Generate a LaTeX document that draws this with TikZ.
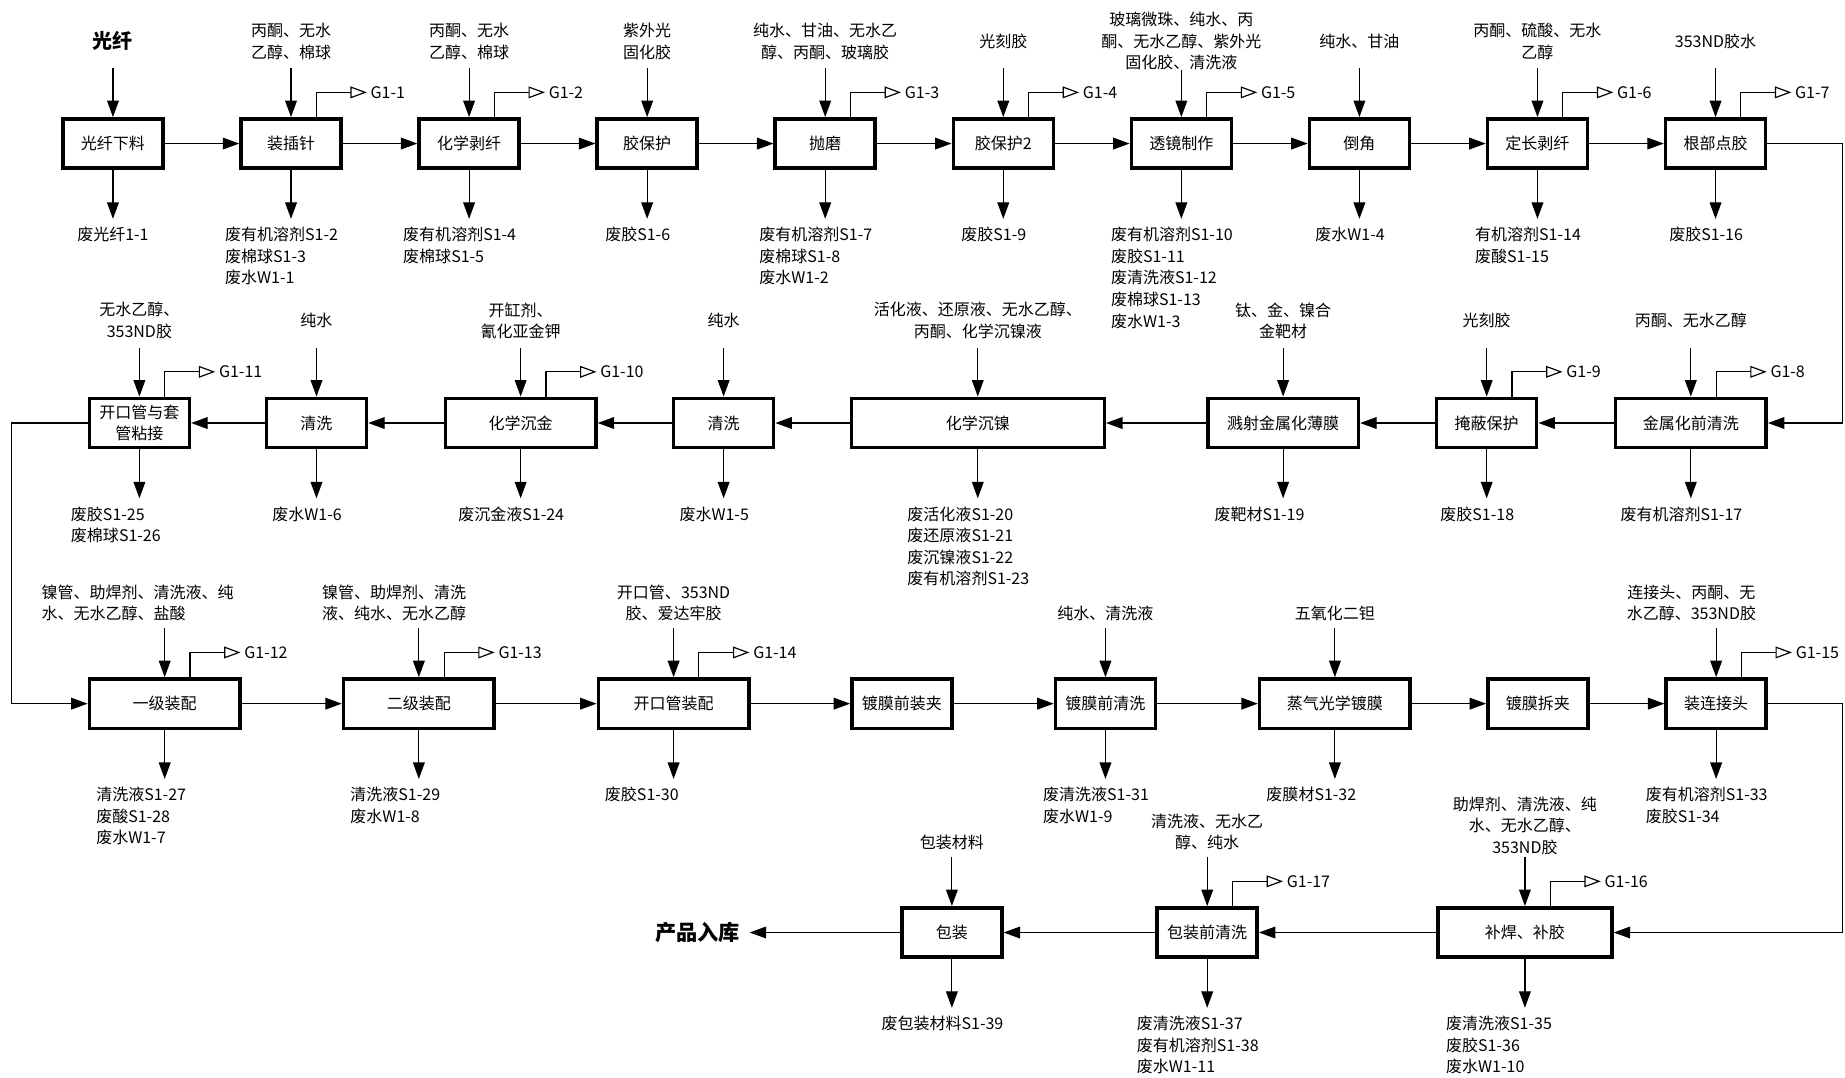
\documentclass[tikz,border=0pt]{standalone}
\usepackage{fontspec}
\setmainfont{Noto Sans CJK SC}
\usetikzlibrary{arrows.meta}
\newcommand{\flowfont}{\fontsize{13.6pt}{18.3pt}\selectfont}
\newcommand{\fiberfont}{\bfseries\fontsize{17pt}{20pt}\selectfont}
\newcommand{\storefont}{\bfseries\fontsize{18pt}{21pt}\selectfont}
\tikzstyle{block} = [rectangle, draw, line width=3pt, minimum width=85pt,
   minimum height=42pt, inner sep=1pt, align=center, font=\flowfont]
\tikzstyle{wideblock} = [block, minimum width=128pt]
\tikzstyle{feed} = [align=center, minimum height=46pt, inner sep=0pt, font=\flowfont]
\tikzstyle{lowfeed} = [align=center, inner sep=6pt, font=\flowfont]
\tikzstyle{waste} = [align=left, inner xsep=1pt, inner ysep=7pt, xshift=-8pt, font=\flowfont]
\tikzstyle{gas} = [anchor=west, inner sep=3pt, font=\flowfont]
\tikzstyle{line} = [draw, line width=1pt, -{Triangle[length=14pt,width=10pt]}]
\tikzstyle{vent} = [draw, line width=1pt, -{Triangle[open,length=14pt,width=10pt]}]
\begin{document}
\begin{tikzpicture}[node distance=151.33pt]
\useasboundingbox (-96pt,122pt) rectangle (1472pt,-794pt);
% Place nodes
\node [block] (cut) {光纤下料};
\node [block, right of=cut] (pin) {装插针};
\node [block, right of=pin] (strip) {化学剥纤};
\node [block, right of=strip] (glue1) {胶保护};
\node [block, right of=glue1] (polish) {抛磨};
\node [block, right of=polish] (glue2) {胶保护2};
\node [block, right of=glue2] (lens) {透镜制作};
\node [block, right of=lens] (bevel) {倒角};
\node [block, right of=bevel] (trim) {定长剥纤};
\node [block, right of=trim] (root) {根部点胶};
\node [wideblock, below of=root, node distance=237.5pt, xshift=-21pt] (preclean) {金属化前清洗};
\node [block, left of=preclean, node distance=173.5pt] (mask) {掩蔽保护};
\node [wideblock, left of=mask, node distance=173pt] (sputter) {溅射金属化薄膜};
\node [block, left of=sputter, node distance=259.5pt, minimum width=215pt] (nickel) {化学沉镍};
\node [block, left of=nickel, node distance=216pt] (rinse1) {清洗};
\node [wideblock, left of=rinse1, node distance=172.5pt] (gold) {化学沉金};
\node [block, left of=gold, node distance=173.5pt] (rinse2) {清洗};
\node [block, left of=rinse2, node distance=150.5pt] (sleeve) {开口管与套\\管粘接};
\node [wideblock, below of=sleeve, node distance=238.5pt, xshift=21.5pt] (asm1) {一级装配};
\node [wideblock, right of=asm1, node distance=216pt] (asm2) {二级装配};
\node [wideblock, right of=asm2, node distance=216.5pt] (tube) {开口管装配};
\node [block, right of=tube, node distance=194pt] (clamp) {镀膜前装夹};
\node [block, right of=clamp, node distance=173pt] (coatclean) {镀膜前清洗};
\node [wideblock, right of=coatclean, node distance=195pt] (coat) {蒸气光学镀膜};
\node [block, right of=coat, node distance=172.5pt] (unclamp) {镀膜拆夹};
\node [block, right of=unclamp, node distance=151.5pt] (conn) {装连接头};
\node [block, below of=conn, node distance=194.5pt, xshift=-162.5pt, minimum width=148pt] (repair) {补焊、补胶};
\node [block, left of=repair, node distance=270pt] (packclean) {包装前清洗};
\node [block, left of=packclean, node distance=217pt] (pack) {包装};
\node [left of=pack, node distance=216pt, inner sep=8pt, font=\storefont] (store) {产品入库};
\coordinate [right of=root, node distance=108pt] (turn1);
\coordinate [left of=sleeve, node distance=108.5pt] (turn2);
\coordinate [right of=conn, node distance=107.5pt] (turn3);
% Materials in
\node [feed, above of=cut, node distance=87pt, font=\fiberfont] (fiber) {光纤};
\node [feed, above of=pin, node distance=87pt] (f2) {丙酮、无水\\乙醇、棉球};
\node [feed, above of=strip, node distance=87pt] (f3) {丙酮、无水\\乙醇、棉球};
\node [feed, above of=glue1, node distance=87pt] (f4) {紫外光\\固化胶};
\node [feed, above of=polish, node distance=87pt] (f5) {纯水、甘油、无水乙\\醇、丙酮、玻璃胶};
\node [feed, above of=glue2, node distance=87pt] (f6) {光刻胶};
\node [feed, above of=lens, node distance=87pt] (f7) {玻璃微珠、纯水、丙\\酮、无水乙醇、紫外光\\固化胶、清洗液};
\node [feed, above of=bevel, node distance=87pt] (f8) {纯水、甘油};
\node [feed, above of=trim, node distance=87pt] (f9) {丙酮、硫酸、无水\\乙醇};
\node [feed, above of=root, node distance=87pt] (f10) {353ND胶水};
\node [feed, above of=preclean, node distance=87pt] (f11) {丙酮、无水乙醇};
\node [feed, above of=mask, node distance=87pt] (f12) {光刻胶};
\node [feed, above of=sputter, node distance=87pt] (f13) {钛、金、镍合\\金靶材};
\node [feed, above of=nickel, node distance=87pt] (f14) {活化液、还原液、无水乙醇、\\丙酮、化学沉镍液};
\node [feed, above of=rinse1, node distance=87pt] (f15) {纯水};
\node [feed, above of=gold, node distance=87pt] (f16) {开缸剂、\\氰化亚金钾};
\node [feed, above of=rinse2, node distance=87pt] (f17) {纯水};
\node [feed, above of=sleeve, node distance=87pt] (f18) {无水乙醇、\\353ND胶};
\node [lowfeed, align=left, above of=asm1, node distance=64pt, anchor=south, xshift=-23pt] (f19) {镍管、助焊剂、清洗液、纯\\水、无水乙醇、盐酸};
\node [lowfeed, align=left, above of=asm2, node distance=64pt, anchor=south, xshift=-21pt] (f20) {镍管、助焊剂、清洗\\液、纯水、无水乙醇};
\node [lowfeed, above of=tube, node distance=64pt, anchor=south] (f21) {开口管、353ND\\胶、爱达牢胶};
\node [lowfeed, above of=coatclean, node distance=64pt, anchor=south] (f22) {纯水、清洗液};
\node [lowfeed, above of=coat, node distance=64pt, anchor=south] (f23) {五氧化二钽};
\node [lowfeed, above of=conn, node distance=64pt, anchor=south, xshift=-21pt] (f24) {连接头、丙酮、无\\水乙醇、353ND胶};
\node [lowfeed, above of=repair, node distance=64pt, anchor=south, inner sep=2pt] (f25) {助焊剂、清洗液、纯\\水、无水乙醇、\\353ND胶};
\node [lowfeed, above of=packclean, node distance=64pt, anchor=south] (f26) {清洗液、无水乙\\醇、纯水};
\node [lowfeed, above of=pack, node distance=64pt, anchor=south] (f27) {包装材料};
% Wastes out
\node [waste, below of=cut, node distance=64pt, anchor=north, xshift=8pt] (w1) {废光纤1-1};
\node [waste, below of=pin, node distance=64pt, anchor=north] (w2) {废有机溶剂S1-2\\废棉球S1-3\\废水W1-1};
\node [waste, below of=strip, node distance=64pt, anchor=north] (w3) {废有机溶剂S1-4\\废棉球S1-5};
\node [waste, below of=glue1, node distance=64pt, anchor=north] (w4) {废胶S1-6};
\node [waste, below of=polish, node distance=64pt, anchor=north] (w5) {废有机溶剂S1-7\\废棉球S1-8\\废水W1-2};
\node [waste, below of=glue2, node distance=64pt, anchor=north] (w6) {废胶S1-9};
\node [waste, below of=lens, node distance=64pt, anchor=north] (w7) {废有机溶剂S1-10\\废胶S1-11\\废清洗液S1-12\\废棉球S1-13\\废水W1-3};
\node [waste, below of=bevel, node distance=64pt, anchor=north] (w8) {废水W1-4};
\node [waste, below of=trim, node distance=64pt, anchor=north] (w9) {有机溶剂S1-14\\废酸S1-15};
\node [waste, below of=root, node distance=64pt, anchor=north] (w10) {废胶S1-16};
\node [waste, below of=preclean, node distance=64pt, anchor=north] (w11) {废有机溶剂S1-17};
\node [waste, below of=mask, node distance=64pt, anchor=north] (w12) {废胶S1-18};
\node [waste, below of=sputter, node distance=64pt, anchor=north, xshift=-12pt] (w13) {废靶材S1-19};
\node [waste, below of=nickel, node distance=64pt, anchor=north] (w14) {废活化液S1-20\\废还原液S1-21\\废沉镍液S1-22\\废有机溶剂S1-23};
\node [waste, below of=rinse1, node distance=64pt, anchor=north] (w15) {废水W1-5};
\node [waste, below of=gold, node distance=64pt, anchor=north] (w16) {废沉金液S1-24};
\node [waste, below of=rinse2, node distance=64pt, anchor=north] (w17) {废水W1-6};
\node [waste, below of=sleeve, node distance=64pt, anchor=north, xshift=-12pt] (w18) {废胶S1-25\\废棉球S1-26};
\node [waste, below of=asm1, node distance=64pt, anchor=north, xshift=-12pt] (w19) {清洗液S1-27\\废酸S1-28\\废水W1-7};
\node [waste, below of=asm2, node distance=64pt, anchor=north, xshift=-12pt] (w20) {清洗液S1-29\\废水W1-8};
\node [waste, below of=tube, node distance=64pt, anchor=north, xshift=-19pt] (w21) {废胶S1-30};
\node [waste, below of=coatclean, node distance=64pt, anchor=north] (w22) {废清洗液S1-31\\废水W1-9};
\node [waste, below of=coat, node distance=64pt, anchor=north, xshift=-12pt] (w23) {废膜材S1-32};
\node [waste, below of=conn, node distance=64pt, anchor=north] (w24) {废有机溶剂S1-33\\废胶S1-34};
\node [waste, below of=repair, node distance=64pt, anchor=north, xshift=-14pt] (w25) {废清洗液S1-35\\废胶S1-36\\废水W1-10};
\node [waste, below of=packclean, node distance=64pt, anchor=north] (w26) {废清洗液S1-37\\废有机溶剂S1-38\\废水W1-11};
\node [waste, below of=pack, node distance=64pt, anchor=north] (w27) {废包装材料S1-39};
% Waste gas
\node [gas] (g1) at ([shift={(64.5pt,21pt)}]pin.north) {G1-1};
\node [gas] (g2) at ([shift={(64.5pt,21pt)}]strip.north) {G1-2};
\node [gas] (g3) at ([shift={(64.5pt,21pt)}]polish.north) {G1-3};
\node [gas] (g4) at ([shift={(64.5pt,21pt)}]glue2.north) {G1-4};
\node [gas] (g5) at ([shift={(64.5pt,21pt)}]lens.north) {G1-5};
\node [gas] (g6) at ([shift={(64.5pt,21pt)}]trim.north) {G1-6};
\node [gas] (g7) at ([shift={(64.5pt,21pt)}]root.north) {G1-7};
\node [gas] (g8) at ([shift={(64.5pt,21pt)}]preclean.north) {G1-8};
\node [gas] (g9) at ([shift={(64.5pt,21pt)}]mask.north) {G1-9};
\node [gas] (g10) at ([shift={(64.5pt,21pt)}]gold.north) {G1-10};
\node [gas] (g11) at ([shift={(64.5pt,21pt)}]sleeve.north) {G1-11};
\node [gas] (g12) at ([shift={(64.5pt,21pt)}]asm1.north) {G1-12};
\node [gas] (g13) at ([shift={(64.5pt,21pt)}]asm2.north) {G1-13};
\node [gas] (g14) at ([shift={(64.5pt,21pt)}]tube.north) {G1-14};
\node [gas] (g15) at ([shift={(64.5pt,21pt)}]conn.north) {G1-15};
\node [gas] (g16) at ([shift={(64.5pt,21pt)}]repair.north) {G1-16};
\node [gas] (g17) at ([shift={(64.5pt,21pt)}]packclean.north) {G1-17};
% Draw edges
\path [line] (cut) -- (pin);
\path [line] (pin) -- (strip);
\path [line] (strip) -- (glue1);
\path [line] (glue1) -- (polish);
\path [line] (polish) -- (glue2);
\path [line] (glue2) -- (lens);
\path [line] (lens) -- (bevel);
\path [line] (bevel) -- (trim);
\path [line] (trim) -- (root);
\path [line] (root) -- (turn1) |- (preclean);
\path [line] (preclean) -- (mask);
\path [line] (mask) -- (sputter);
\path [line] (sputter) -- (nickel);
\path [line] (nickel) -- (rinse1);
\path [line] (rinse1) -- (gold);
\path [line] (gold) -- (rinse2);
\path [line] (rinse2) -- (sleeve);
\path [line] (sleeve) -- (turn2) |- (asm1);
\path [line] (asm1) -- (asm2);
\path [line] (asm2) -- (tube);
\path [line] (tube) -- (clamp);
\path [line] (clamp) -- (coatclean);
\path [line] (coatclean) -- (coat);
\path [line] (coat) -- (unclamp);
\path [line] (unclamp) -- (conn);
\path [line] (conn) -- (turn3) |- (repair);
\path [line] (repair) -- (packclean);
\path [line] (packclean) -- (pack);
\path [line] (pack) -- (store);
% inputs
\path [line] (fiber) -- (cut);
\path [line] (f2) -- (pin);
\path [line] (f3) -- (strip);
\path [line] (f4) -- (glue1);
\path [line] (f5) -- (polish);
\path [line] (f6) -- (glue2);
\path [line] (f7) -- (lens);
\path [line] (f8) -- (bevel);
\path [line] (f9) -- (trim);
\path [line] (f10) -- (root);
\path [line] (f11) -- (preclean);
\path [line] (f12) -- (mask);
\path [line] (f13) -- (sputter);
\path [line] (f14) -- (nickel);
\path [line] (f15) -- (rinse1);
\path [line] (f16) -- (gold);
\path [line] (f17) -- (rinse2);
\path [line] (f18) -- (sleeve);
\path [line] (f19.south -| asm1) -- (asm1);
\path [line] (f20.south -| asm2) -- (asm2);
\path [line] (f21) -- (tube);
\path [line] (f22) -- (coatclean);
\path [line] (f23) -- (coat);
\path [line] (f24.south -| conn) -- (conn);
\path [line] (f25) -- (repair);
\path [line] (f26) -- (packclean);
\path [line] (f27) -- (pack);
% outputs
\path [line] (cut) -- (cut |- w1.north);
\path [line] (pin) -- (pin |- w2.north);
\path [line] (strip) -- (strip |- w3.north);
\path [line] (glue1) -- (glue1 |- w4.north);
\path [line] (polish) -- (polish |- w5.north);
\path [line] (glue2) -- (glue2 |- w6.north);
\path [line] (lens) -- (lens |- w7.north);
\path [line] (bevel) -- (bevel |- w8.north);
\path [line] (trim) -- (trim |- w9.north);
\path [line] (root) -- (root |- w10.north);
\path [line] (preclean) -- (preclean |- w11.north);
\path [line] (mask) -- (mask |- w12.north);
\path [line] (sputter) -- (sputter |- w13.north);
\path [line] (nickel) -- (nickel |- w14.north);
\path [line] (rinse1) -- (rinse1 |- w15.north);
\path [line] (gold) -- (gold |- w16.north);
\path [line] (rinse2) -- (rinse2 |- w17.north);
\path [line] (sleeve) -- (sleeve |- w18.north);
\path [line] (asm1) -- (asm1 |- w19.north);
\path [line] (asm2) -- (asm2 |- w20.north);
\path [line] (tube) -- (tube |- w21.north);
\path [line] (coatclean) -- (coatclean |- w22.north);
\path [line] (coat) -- (coat |- w23.north);
\path [line] (conn) -- (conn |- w24.north);
\path [line] (repair) -- (repair |- w25.north);
\path [line] (packclean) -- (packclean |- w26.north);
\path [line] (pack) -- (pack |- w27.north);
% waste gas
\path [vent] ([xshift=21.5pt]pin.north) |- (g1);
\path [vent] ([xshift=21.5pt]strip.north) |- (g2);
\path [vent] ([xshift=21.5pt]polish.north) |- (g3);
\path [vent] ([xshift=21.5pt]glue2.north) |- (g4);
\path [vent] ([xshift=21.5pt]lens.north) |- (g5);
\path [vent] ([xshift=21.5pt]trim.north) |- (g6);
\path [vent] ([xshift=21.5pt]root.north) |- (g7);
\path [vent] ([xshift=21.5pt]preclean.north) |- (g8);
\path [vent] ([xshift=21.5pt]mask.north) |- (g9);
\path [vent] ([xshift=21.5pt]gold.north) |- (g10);
\path [vent] ([xshift=21.5pt]sleeve.north) |- (g11);
\path [vent] ([xshift=21.5pt]asm1.north) |- (g12);
\path [vent] ([xshift=21.5pt]asm2.north) |- (g13);
\path [vent] ([xshift=21.5pt]tube.north) |- (g14);
\path [vent] ([xshift=21.5pt]conn.north) |- (g15);
\path [vent] ([xshift=21.5pt]repair.north) |- (g16);
\path [vent] ([xshift=21.5pt]packclean.north) |- (g17);
\end{tikzpicture}
\end{document}
